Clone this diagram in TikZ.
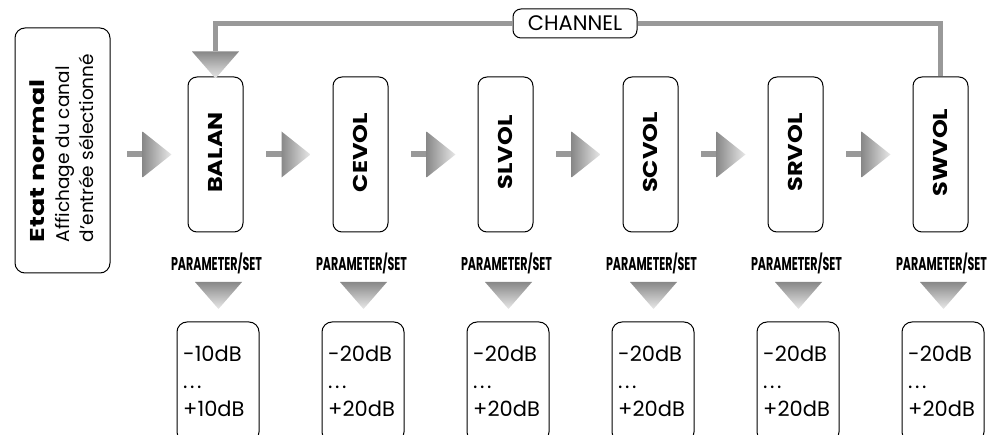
\documentclass[tikz,border=0pt]{standalone}
\usepackage{fontspec}
\setmainfont{Poppins}
\newfontfamily\condfont[FakeStretch=0.6]{Poppins}
\newfontfamily\widebold[FakeStretch=1.2]{Poppins}
\newfontfamily\etatfont[FakeStretch=1.35]{Poppins}
\usetikzlibrary{calc}
\definecolor{linegray}{HTML}{999999}
\definecolor{shadedark}{HTML}{888888}
\definecolor{shadelight}{HTML}{E8E8E8}
\begin{document}
\begin{tikzpicture}[x=1pt,y=-1pt,
  frame/.style={draw=black, line width=1pt, inner sep=0pt},
  etatbox/.style={frame, rounded corners=10pt, minimum width=95pt, minimum height=245pt},
  stepbox/.style={frame, rounded corners=9pt, minimum width=55pt, minimum height=155pt},
  valbox/.style={frame, rounded corners=10pt, minimum width=82pt, minimum height=120pt},
  chanbox/.style={frame, rounded corners=8pt, minimum width=124pt, minimum height=29pt, fill=white},
  steptext/.style={rotate=90, inner sep=0pt, font=\fontsize{20}{24}\selectfont\widebold\bfseries},
  partext/.style={inner sep=0pt, font=\fontsize{18.5}{20}\selectfont\condfont\bfseries},
  valtext/.style={inner sep=0pt, font=\fontsize{21}{24}\selectfont},
  feed/.style={draw=linegray, line width=5pt},
  harrow/.pic={
    \fill[linegray] (-22.5,-3) rectangle (-6,3);
    \shade[left color=shadedark, right color=shadelight] (-6.5,-23) -- (22.5,0) -- (-6.5,23) -- cycle;
  },
  darrow/.pic={
    \shade[top color=shadedark, bottom color=shadelight] (-23.5,0) -- (23.5,0) -- (0,27) -- cycle;
  }
]
\useasboundingbox (0,0) rectangle (989,435);

% left state box
\node[etatbox] (etat) at (62.5,150.5) {};
\node[rotate=90, align=left, inner sep=0pt, font=\fontsize{18.5}{24.5}\selectfont] (etattxt) at (62,148)
  {{\etatfont\bfseries\fontsize{20}{24.5}\selectfont Etat normal}\\Affichage du canal\\d'entrée sélectionné};

% step boxes, parameter labels, value boxes
\foreach \n/\t/\lo/\hi [count=\i] in {balan/BALAN/-10dB/+10dB, cevol/CEVOL/-20dB/+20dB,
    slvol/SLVOL/-20dB/+20dB, scvol/SCVOL/-20dB/+20dB, srvol/SRVOL/-20dB/+20dB, swvol/SWVOL/-20dB/+20dB} {
  \pgfmathsetmacro\cx{215.5+145*(\i-1)}
  \pgfmathsetmacro\vx{\cx+2.5-41+6}
  \node[stepbox] (\n) at (\cx,154.5) {};
  \node[steptext] (\n txt) at (\cx,152.5) {\t};
  \node[partext, anchor=base] (\n par) at (\cx+1,271) {PARAMETER/SET};
  \pic at (\cx+3,282) {darrow};
  \node[valbox] (\n val) at (\cx+2.5,382) {};
  \node[valtext, anchor=base west] (\n lo) at (\vx,362) {\lo};
  \node[valtext, anchor=base west] (\n dots) at (\vx,389) {.\kern2.5pt.\kern2.5pt.};
  \node[valtext, anchor=base west] (\n hi) at (\vx,417) {\hi};
}

% horizontal arrows
\foreach \a/\b in {etat/balan, balan/cevol, cevol/slvol, slvol/scvol, scvol/srvol, srvol/swvol} {
  \pic at ($(\a.east |- \b.west)!0.5!(\b.west)$) {harrow};
}

% channel feedback
\node[chanbox, font=\fontsize{21}{24}\selectfont] (chan) at (575,23.5) {CHANNEL};
\coordinate (chanend) at ($(balan.north)+(0,-25)$);
\draw[feed] (swvol.north) |- (chan.east);
\draw[feed] (chan.west) -| (chanend);
\pic at (chanend) {darrow};
\end{tikzpicture}
\end{document}
